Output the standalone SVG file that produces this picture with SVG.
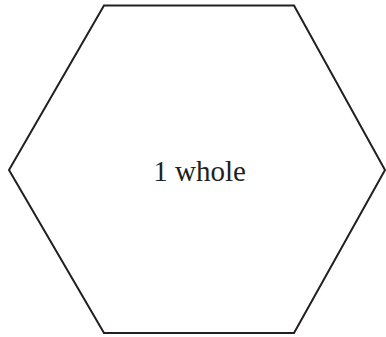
<svg xmlns="http://www.w3.org/2000/svg" width="386" height="337" viewBox="0 0 386 337">
<style>
.shape{fill:#fff;stroke:#231f20;stroke-width:2;stroke-linejoin:miter}
.lbl{font-family:"Liberation Serif","Times New Roman",serif;font-size:29px;fill:#231f20;text-anchor:middle}
</style>
<rect width="386" height="337" fill="#fff"/>
<g id="hexagon">
<polygon class="shape" points="104,5.5 294,5.5 385,170 294,333 104,333 9,170"/>
<text class="lbl" x="199.5" y="181">1 whole</text>
</g>
<g id="connectors"/>
</svg>
